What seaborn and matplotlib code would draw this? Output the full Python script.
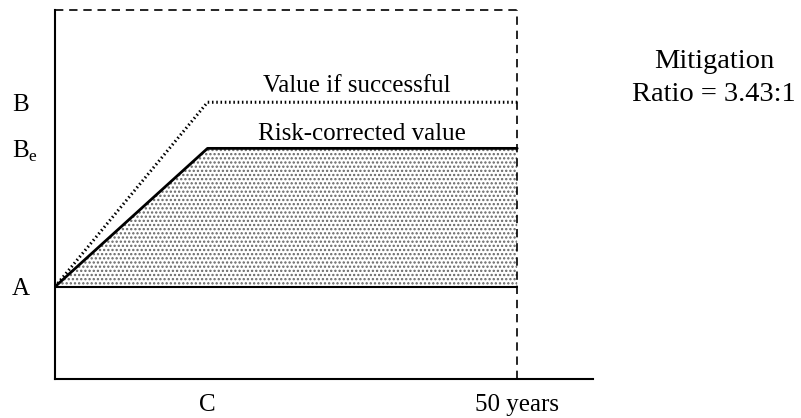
import matplotlib
matplotlib.use("Agg")
import matplotlib.pyplot as plt
import seaborn as sns
import pandas as pd

# ---- data ----
A_level = 1.0
Be_level = 2.5
B_level = 3.0
top_level = 4.0
C_year = 16.5
horizon = 50
x_max = 58.2

years = [0, C_year, horizon]
value_if_successful = [A_level, B_level, B_level]
risk_corrected = [A_level, Be_level, Be_level]
baseline = [A_level, A_level, A_level]

ytick_vals = [A_level, Be_level, B_level]
ytick_labels = ["A", r"B$_\mathregular{e}$", "B"]
xtick_vals = [C_year, horizon]
xtick_labels = ["C", "50 years"]

sns.set_theme(style="white")
plt.rcParams["font.family"] = ["Liberation Serif", "DejaVu Serif"]
plt.rcParams["mathtext.fontset"] = "custom"
plt.rcParams["mathtext.rm"] = "Liberation Serif"
plt.rcParams["hatch.linewidth"] = 1.1
for k in ["text.color", "axes.labelcolor", "xtick.color", "ytick.color"]:
    plt.rcParams[k] = "black"

fig = plt.figure(figsize=(8.01, 4.18), dpi=100)
ax = fig.add_axes([55 / 801, 39 / 418, (593 - 55) / 801, (379 - 10) / 418])

df_s = pd.DataFrame({"year": years, "value": value_if_successful})
df_r = pd.DataFrame({"year": years, "value": risk_corrected})
df_b = pd.DataFrame({"year": years, "value": baseline})

# shaded area
ax.fill_between(years, baseline, risk_corrected, facecolor="none",
                edgecolor="#666666", linewidth=0, hatch="....", zorder=1)

sns.lineplot(data=df_s, x="year", y="value", ax=ax, color="black",
             linewidth=2.2, linestyle=(0, (0.5, 0.9)), estimator=None, sort=False, zorder=3)
sns.lineplot(data=df_r, x="year", y="value", ax=ax, color="black",
             linewidth=2.0, estimator=None, sort=False, zorder=3)
sns.lineplot(data=df_b, x="year", y="value", ax=ax, color="black",
             linewidth=1.5, estimator=None, sort=False, zorder=3)

# dashed frame (top and right at 50 years)
ax.plot([0, horizon], [top_level, top_level], color="black", linewidth=1.2,
        linestyle=(0, (5, 3.5)), clip_on=False, zorder=3)
ax.plot([horizon, horizon], [0, top_level], color="black", linewidth=1.2,
        linestyle=(0, (5, 3.5)), clip_on=False, zorder=3)

ax.set_xlim(0, x_max)
ax.set_ylim(0, top_level)

for s in ["top", "right"]:
    ax.spines[s].set_visible(False)
for s in ["left", "bottom"]:
    ax.spines[s].set_color("black")
    ax.spines[s].set_linewidth(1.5)

ax.set_xticks(xtick_vals)
ax.set_xticklabels(xtick_labels, fontsize=18)
ax.set_yticks(ytick_vals)
ax.set_yticklabels(ytick_labels, fontsize=18, ha="left")
ax.tick_params(axis="x", length=0, pad=11)
ax.tick_params(axis="y", length=0, pad=31)
ax.set_xlabel("")
ax.set_ylabel("")

ax.text(32.7, 3.116, "Value if successful", fontsize=18, ha="center", va="baseline")
ax.text(33.2, 2.587, "Risk-corrected value", fontsize=18, ha="center", va="baseline")

fig.text(714 / 801, (418 - 68) / 418, "Mitigation", fontsize=20.5, ha="center", va="baseline")
fig.text(714 / 801, (418 - 101) / 418, "Ratio = 3.43:1", fontsize=20.5, ha="center", va="baseline")

fig.savefig("out.png", dpi=100)
